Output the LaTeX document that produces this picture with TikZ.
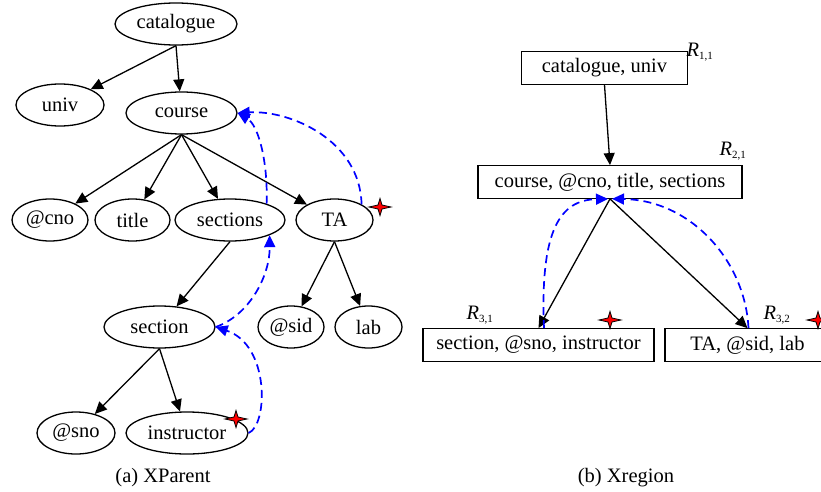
\documentclass[tikz,border=0pt]{standalone}
\usepackage{fontspec}
\setmainfont{Liberation Serif}
\usetikzlibrary{arrows.meta,shapes.geometric}

\tikzset{
  spark/.pic={
    \filldraw[fill=red, draw=black, line width=0.8pt]
      (-11,0) -- (-2,-2) -- (0,-8.5) -- (2,-2) -- (11,0) -- (2,2) -- (0,8.5) -- (-2,2) -- cycle;
  }
}

\begin{document}
\begin{tikzpicture}[x=1pt, y=-1pt,
  every node/.style={font=\fontsize{20.5}{24}\selectfont},
  elem/.style={ellipse, draw, line width=1.3pt, inner sep=0pt, minimum height=42pt},
  region/.style={rectangle, draw, line width=1.3pt, inner sep=0pt, minimum height=32.5pt},
  edge/.style={-{Triangle[length=12pt,width=11pt]}, line width=1.3pt},
  link/.style={-{Triangle[length=12pt,width=11pt]}, draw=blue, line width=1.7pt, dash pattern=on 8pt off 5pt},
  tag/.style={inner sep=0pt},
  subcap/.style={inner sep=0pt}]

\useasboundingbox (0,0) rectangle (821,492);

% ---------- (a) XParent ----------
\node[elem, minimum width=122pt] (catalogue) at (176,24) {catalogue};
\node[elem, minimum width=88pt]  (univ)      at (60,105) {univ};
\node[elem, minimum width=111pt] (course)    at (181.5,113) {course};
\node[elem, minimum width=76pt]  (cno)       at (50,220) {@cno};
\node[elem, minimum width=75pt]  (title)     at (132.5,220) {title};
\node[elem, minimum width=110pt] (sections)  at (230,220) {sections};
\node[elem, minimum width=77pt]  (TA)        at (334.5,220) {TA};
\node[elem, minimum width=111pt] (section)   at (159.5,327) {section};
\node[elem, minimum width=66pt]  (sid)       at (291,327) {@sid};
\node[elem, minimum width=67pt]  (lab)       at (368.5,327) {lab};
\node[elem, minimum width=78pt]  (sno)       at (76,433) {@sno};
\node[elem, minimum width=122pt] (instructor) at (187,433) {instructor};

\draw[edge] (catalogue.south) -- (univ);
\draw[edge] (catalogue.south) -- (course);
\draw[edge] (course.south) -- (cno);
\draw[edge] (course.south) -- (title);
\draw[edge] (course.south) -- (sections);
\draw[edge] (course.south) -- (TA);
\draw[edge] (sections.south) -- (section);
\draw[edge] (TA.south) -- (sid);
\draw[edge] (TA.south) -- (lab);
\draw[edge] (section.south) -- (sno);
\draw[edge] (section.south) -- (instructor);

\draw[link] (sections.24) .. controls (268,160) and (258,125) .. (course.east);
\draw[link] (TA.30) .. controls (360,140) and (290,110) .. (course.east);
\draw[link] (section.east) .. controls (250,315) and (270,275) .. (sections.-21);
\draw[link] (instructor.east) .. controls (268,425) and (270,345) .. (section.east);

\pic at (380,207) {spark};
\pic at (236,419) {spark};

\node[subcap] (capA) at (163,478) {(a) XParent};

% ---------- (b) Xregion ----------
\node[region, minimum width=165.6pt] (R11) at (604.5,68) {catalogue, univ};
\node[region, minimum width=264pt]   (R21) at (610,182) {course, @cno, title, sections};
\node[region, minimum width=231pt]   (R31) at (538.5,345) {section, @sno, instructor};
\node[region, minimum width=165pt]   (R32) at (747.5,345) {TA, @sid, lab};

\node[tag] (L11) at (700,52)  {\itshape R\textsubscript{\normalfont\fontsize{11}{12}\selectfont 1,1}};
\node[tag] (L21) at (733,151) {\itshape R\textsubscript{\normalfont\fontsize{11}{12}\selectfont 2,1}};
\node[tag] (L31) at (480,315) {\itshape R\textsubscript{\normalfont\fontsize{11}{12}\selectfont 3,1}};
\node[tag] (L32) at (777,315) {\itshape R\textsubscript{\normalfont\fontsize{11}{12}\selectfont 3,2}};

\draw[edge] (R11.south) -- (R21.north);
\draw[edge] (R21.south) -- (R31.north);
\draw[edge] (R21.south) -- (R32.north);

\draw[link] ([xshift=5.5pt]R31.north) .. controls (540,230) and (560,200) .. ([xshift=-2pt]R21.south);
\draw[link] ([xshift=1pt]R32.north) .. controls (745,260) and (690,200) .. ([xshift=2pt]R21.south);

\pic at (610,320) {spark};
\pic at (818,320) {spark};

\node[subcap] (capB) at (626,478) {(b) Xregion};

\end{tikzpicture}
\end{document}
